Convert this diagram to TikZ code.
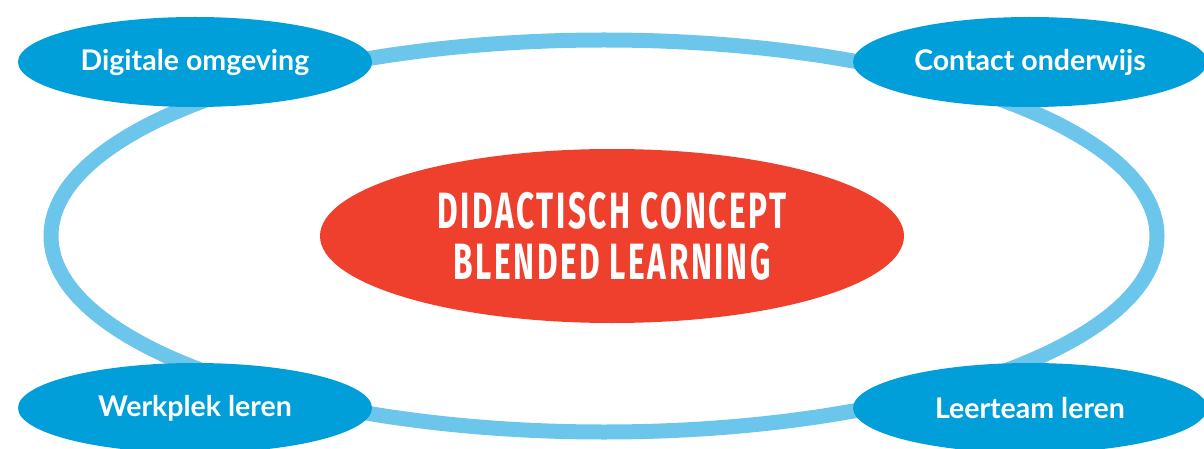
\documentclass[tikz,border=0pt]{standalone}
\usepackage{fontspec}
\setmainfont{Lato}
\newfontfamily\condfont[FakeStretch=0.62,LetterSpace=5]{Fira Sans}
\usetikzlibrary{shapes.geometric}
\definecolor{ringblue}{HTML}{6CC6EC}
\definecolor{boxblue}{HTML}{009FDA}
\definecolor{conceptred}{HTML}{EF402E}
\tikzset{
  label/.style={ellipse,fill=boxblue,text=white,inner sep=0pt,
    minimum width=354pt,minimum height=90pt,font=\fontsize{28.5}{32}\selectfont\bfseries},
  concept/.style={ellipse,fill=conceptred,text=white,inner sep=0pt,align=center,
    minimum width=584pt,minimum height=174pt,font=\condfont\bfseries\fontsize{51}{51}\selectfont}
}
\begin{document}
\begin{tikzpicture}[x=1pt,y=-1pt]
\useasboundingbox (0,0) rectangle (1204,449);
% Ring around everything
\draw[ringblue,line width=15pt] (604,236) ellipse (553 and 196);
% Concept in the middle
\node[concept] (concept) at (612,236) {DIDACTISCH CONCEPT\\BLENDED LEARNING};
% The four parts of the blend
\node[label] (digitaal) at (195,62) {Digitale omgeving};
\node[label] (contact) at (1030,62) {Contact onderwijs};
\node[label] (werkplek) at (195,408) {Werkplek leren};
\node[label] (leerteam) at (1030,408) {Leerteam leren};
\end{tikzpicture}
\end{document}
